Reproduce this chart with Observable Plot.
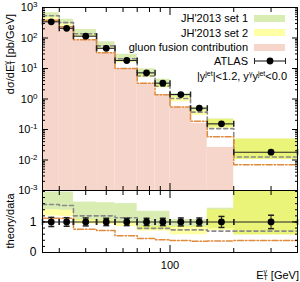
<!DOCTYPE html>
<html><head><meta charset="utf-8">
<script src="https://cdn.jsdelivr.net/npm/d3@7"></script>
<script src="https://cdn.jsdelivr.net/npm/@observablehq/plot@0.6"></script>
<style>
body{margin:0;background:#fff;}
#wrap{position:relative;width:300px;height:282px;font-family:"Liberation Sans",Arial,sans-serif;overflow:hidden;background:#fff;}
#wrap svg{position:absolute;left:0;overflow:visible;}
.lbl{position:absolute;font-size:11px;line-height:14px;white-space:nowrap;color:#000;}
.sw{position:absolute;width:31px;height:7px;}
.stk{display:inline-block;vertical-align:middle;line-height:6px;font-size:7px;text-align:left;position:relative;top:-1px;}
.stk span{display:block;}
.sp{font-size:7px;position:relative;top:-4px;}
</style></head><body><div id="wrap"></div>
<script>
// ---- data ----
const edges    = [25, 30, 35, 45, 55, 70, 85, 100, 125, 150, 200, 400];
const atlas    = [340, 208, 115, 46, 18.3, 7.2, 3.3, 1.4, 0.50, 0.153, 0.018];   // pb/GeV
const atlasErr = [0.15, 0.14, 0.13, 0.12, 0.12, 0.12, 0.12, 0.13, 0.13, 0.18, 0.22]; // relative
// theory / data ratios
const set1Lo   = [1.40, 1.38, 1.05, 1.02, 0.98, 0.75, 0.75, 0.82, 0.82, 0.78, 0.58];
const set1Hi   = [1.98, 1.98, 1.65, 1.63, 1.60, 1.35, 1.35, 1.08, 1.08, 1.45, 2.70];
const set2Lo   = [1.20, 1.18, 0.93, 0.92, 0.85, 0.70, 0.70, 0.58, 0.58, 0.72, 0.57];
const set2Hi   = [1.40, 1.38, 1.08, 1.05, 1.00, 0.86, 0.86, 0.85, 0.85, 1.40, 2.70];
const dashed   = [1.57, 1.54, 1.20, 1.20, 1.14, 0.79, 0.79, 0.74, 0.74, 0.70, 0.70];
const dashDot  = [1.12, 1.12, 0.76, 0.72, 0.55, 0.46, 0.42, 0.39, 0.37, 0.38, 0.39];
const gluon    = [375, 230, 85, 32, 9.8, 3.2, 1.35, 0.53, 0.16, 0.026, null];   // pb/GeV
const yTicksUpper = [1e-3, 1e-2, 1e-1, 1, 10, 100, 1000];
const yTicksLower = [0, 1];
const xMajor = [100];
const xMinor = [30, 40, 50, 60, 70, 80, 90, 200, 300];

// ---- tables ----
const n = atlas.length;
const bins = atlas.map((v, i) => ({
  x1: edges[i], x2: edges[i + 1], xc: (edges[i] + edges[i + 1]) / 2,
  v, e: atlasErr[i],
  s1lo: set1Lo[i], s1hi: set1Hi[i], s2lo: set2Lo[i], s2hi: set2Hi[i],
  g: gluon[i]
}));
function steps(vals, absolute) {
  const rows = vals.map((r, i) => ({x: edges[i], y: absolute ? r * atlas[i] : r}));
  rows.push({x: edges[n], y: rows[n - 1].y});
  return rows;
}
const vbar = {draw(c, s) { const h = Math.sqrt(s / Math.PI); c.moveTo(0, -h); c.lineTo(0, h); }};
const hbar = {draw(c, s) { const h = Math.sqrt(s / Math.PI); c.moveTo(-h, 0); c.lineTo(h, 0); }};

const GREEN = "#9acd32", GOP = 0.38, YELLOW = "#ffff33", YOP = 0.45, PINK = "#f6d6cb";
const ORANGE = "#e08a3c", GREY = "#8a8a8a";
const blank = () => "";
const yMinorUpper = d3.range(-3, 3).flatMap(p => d3.range(2, 10).map(k => k * Math.pow(10, p)));
const yMinorLower = d3.range(0, 11).map(k => k * 0.2);

function xTickMarks(anchors) {
  const m = [];
  for (const a of anchors) {
    m.push(Plot.axisX({anchor: a, ticks: xMinor, tickSize: -4, tickFormat: blank, label: null}));
    m.push(Plot.axisX({anchor: a, ticks: xMajor, tickSize: -7, tickFormat: blank, label: null}));
  }
  return m;
}

const upper = Plot.plot({
  width: 300, height: 190, marginTop: 7, marginBottom: 0, marginLeft: 42, marginRight: 3,
  style: {fontFamily: "Liberation Sans, Arial, sans-serif", fontSize: "11px", background: "transparent"},
  x: {type: "log", domain: [25, 400]},
  y: {type: "log", domain: [1e-3, 1e3]},
  marks: [
    Plot.rect(bins.filter(d => d.g != null), {x1: "x1", x2: "x2", y1: 1e-3, y2: "g", fill: PINK, clip: true}),
    Plot.rect(bins, {x1: "x1", x2: "x2", y1: d => d.s1lo * d.v, y2: d => d.s1hi * d.v, fill: GREEN, fillOpacity: GOP, clip: true}),
    Plot.rect(bins, {x1: "x1", x2: "x2", y1: d => d.s2lo * d.v, y2: d => d.s2hi * d.v, fill: YELLOW, fillOpacity: YOP, clip: true}),
    Plot.line(steps(dashed, true), {x: "x", y: "y", curve: "step-after", stroke: GREY, strokeWidth: 1.6, strokeDasharray: "4,3", clip: true}),
    Plot.line(steps(dashDot, true), {x: "x", y: "y", curve: "step-after", stroke: ORANGE, strokeWidth: 1.5, strokeDasharray: "6,2,1.5,2", clip: true}),
    Plot.ruleY(bins, {x1: "x1", x2: "x2", y: "v", stroke: "#222", strokeWidth: 1.1}),
    Plot.dot(bins, {x: "x1", y: "v", symbol: vbar, r: 3, stroke: "#222", fill: "none"}),
    Plot.dot(bins, {x: "x2", y: "v", symbol: vbar, r: 3, stroke: "#222", fill: "none"}),
    Plot.ruleX(bins, {x: "xc", y1: d => d.v * (1 - d.e), y2: d => d.v * (1 + d.e), stroke: "#222"}),
    Plot.dot(bins, {x: "xc", y: "v", r: 3.4, fill: "#000", stroke: "none"}),
    Plot.axisY({anchor: "left", ticks: yTicksUpper, tickSize: 0, tickPadding: 5, tickFormat: d => "10^" + Math.round(Math.log10(d)), label: null, fontSize: 11}),
    Plot.axisY({anchor: "left", ticks: yTicksUpper, tickSize: -6, tickFormat: blank, label: null}),
    Plot.axisY({anchor: "left", ticks: yMinorUpper, tickSize: -3, tickFormat: blank, label: null}),
    Plot.axisY({anchor: "right", ticks: yTicksUpper, tickSize: -6, tickFormat: blank, label: null}),
    Plot.axisY({anchor: "right", ticks: yMinorUpper, tickSize: -3, tickFormat: blank, label: null}),
    ...xTickMarks(["top", "bottom"]),
    Plot.frame({stroke: "#000"})
  ]
});

const lower = Plot.plot({
  width: 300, height: 98, marginTop: 6, marginBottom: 30, marginLeft: 42, marginRight: 3,
  style: {fontFamily: "Liberation Sans, Arial, sans-serif", fontSize: "11px", background: "transparent"},
  x: {type: "log", domain: [25, 400]},
  y: {domain: [0, 2.03]},
  marks: [
    Plot.rect(bins, {x1: "x1", x2: "x2", y1: "s1lo", y2: "s1hi", fill: GREEN, fillOpacity: GOP, clip: true}),
    Plot.rect(bins, {x1: "x1", x2: "x2", y1: "s2lo", y2: "s2hi", fill: YELLOW, fillOpacity: YOP, clip: true}),
    Plot.line(steps(dashed, false), {x: "x", y: "y", curve: "step-after", stroke: GREY, strokeWidth: 1.6, strokeDasharray: "4,3", clip: true}),
    Plot.line(steps(dashDot, false), {x: "x", y: "y", curve: "step-after", stroke: ORANGE, strokeWidth: 1.5, strokeDasharray: "6,2,1.5,2", clip: true}),
    Plot.ruleY([1], {stroke: "#222", strokeWidth: 1.1}),
    Plot.dot(bins, {x: "x1", y: 1, symbol: vbar, r: 3, stroke: "#222", fill: "none"}),
    Plot.dot(bins, {x: "x2", y: 1, symbol: vbar, r: 3, stroke: "#222", fill: "none"}),
    Plot.ruleX(bins, {x: "xc", y1: d => 1 - d.e, y2: d => 1 + d.e, stroke: "#222"}),
    Plot.dot(bins, {x: "xc", y: d => 1 - d.e, symbol: hbar, r: 3, stroke: "#222", fill: "none"}),
    Plot.dot(bins, {x: "xc", y: d => 1 + d.e, symbol: hbar, r: 3, stroke: "#222", fill: "none"}),
    Plot.dot(bins, {x: "xc", y: 1, r: 3.4, fill: "#000", stroke: "none"}),
    Plot.axisY({anchor: "left", ticks: yTicksLower, tickSize: 0, tickPadding: 6, tickFormat: d3.format("d"), label: null, fontSize: 12}),
    Plot.axisY({anchor: "left", ticks: yTicksLower, tickSize: -6, tickFormat: blank, label: null}),
    Plot.axisY({anchor: "left", ticks: yMinorLower, tickSize: -3, tickFormat: blank, label: null}),
    Plot.axisY({anchor: "right", ticks: yTicksLower, tickSize: -6, tickFormat: blank, label: null}),
    Plot.axisY({anchor: "right", ticks: yMinorLower, tickSize: -3, tickFormat: blank, label: null}),
    ...xTickMarks(["top", "bottom"]),
    Plot.axisX({anchor: "bottom", ticks: xMajor, tickSize: 0, tickPadding: 9, tickFormat: d3.format("d"), label: null, fontSize: 11}),
    Plot.frame({stroke: "#000"})
  ]
});

// superscript exponents on the log-axis labels
d3.select(upper).selectAll("text").each(function () {
  const m = /^10\^(-?\d+)$/.exec(this.textContent);
  if (m) {
    this.textContent = "";
    d3.select(this).append("tspan").text("10");
    d3.select(this).append("tspan").attr("dy", "-0.5em").attr("font-size", "8px").text(m[1]);
  }
});

const wrap = document.getElementById("wrap");
upper.style.top = "0px";
lower.style.top = "184px";
wrap.appendChild(upper);
wrap.appendChild(lower);

// ---- legend & axis titles ----
const legendRows = [
  {label: "JH'2013 set 1", cy: 18, kind: "green"},
  {label: "JH'2013 set 2", cy: 32.5, kind: "yellow"},
  {label: "gluon fusion contribution", cy: 47, kind: "pink"},
  {label: "ATLAS", cy: 61, kind: "atlas"}
];
const et = 'E<span class="stk"><span>γ</span><span>T</span></span>';
let html = "";
for (const r of legendRows) {
  html += `<div class="lbl" style="right:52px;top:${r.cy - 7}px">${r.label}</div>`;
  if (r.kind === "green") html += `<div class="sw" style="left:254px;top:${r.cy - 3.5}px;background:${GREEN};opacity:${GOP}"></div>`;
  if (r.kind === "yellow") html += `<div class="sw" style="left:254px;top:${r.cy - 3.5}px;background:${YELLOW};opacity:${YOP}"></div>`;
  if (r.kind === "pink") html += `<div class="sw" style="left:254px;top:${r.cy - 3.5}px;background:${PINK}"></div>`;
  if (r.kind === "atlas") html += `<svg style="left:254px;top:${r.cy - 4}px" width="32" height="8"><line x1="0.5" x2="31.5" y1="4" y2="4" stroke="#222" stroke-width="1.1"/><line x1="0.5" x2="0.5" y1="1" y2="7" stroke="#222"/><line x1="31.5" x2="31.5" y1="1" y2="7" stroke="#222"/><circle cx="16" cy="4" r="3.4" fill="#000"/></svg>`;
}
html += `<div class="lbl" style="right:13px;top:69px">|y<span class="sp">jet</span>|&lt;1.2, y<span class="sp">γ</span>y<span class="sp">jet</span>&lt;0.0</div>`;
html += `<div class="lbl" style="left:-50px;top:47px;width:120px;text-align:center;transform:rotate(-90deg);transform-origin:center">dσ/d${et} [pb/GeV]</div>`;
html += `<div class="lbl" style="left:-40px;top:214px;width:100px;text-align:center;transform:rotate(-90deg);transform-origin:center">theory/data</div>`;
html += `<div class="lbl" style="right:1px;top:268px">${et} [GeV]</div>`;
wrap.insertAdjacentHTML("beforeend", html);
</script></body></html>
